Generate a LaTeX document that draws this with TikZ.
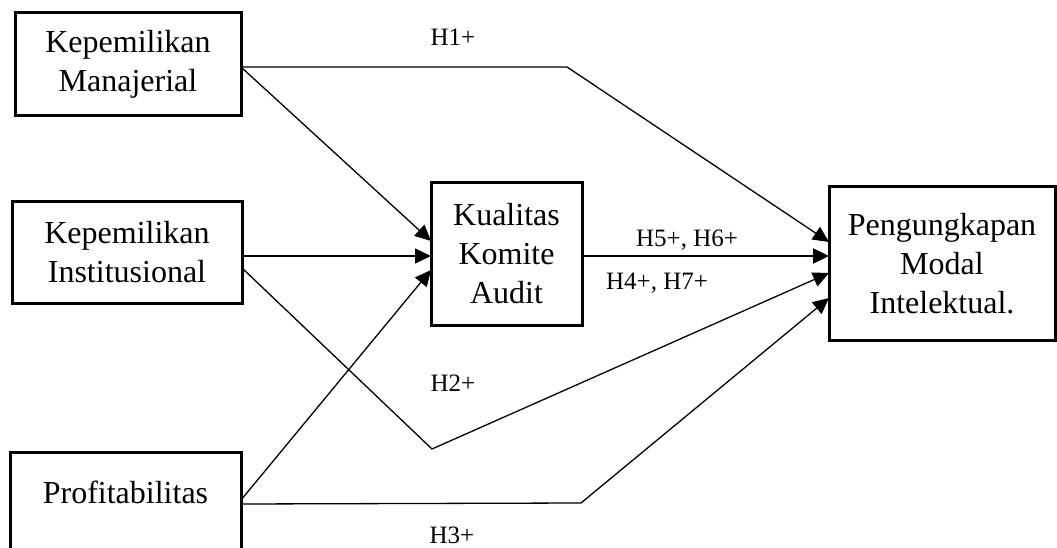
\documentclass[tikz,border=0pt]{standalone}
\usepackage{fontspec}
\setmainfont{Liberation Serif}
\usetikzlibrary{arrows.meta,calc}
\begin{document}
\begin{tikzpicture}[x=1pt,y=-1pt,
  box/.style={draw, line width=3pt, inner sep=0pt, outer sep=0pt, align=center, font=\fontsize{32}{39}\selectfont},
  conn/.style={line width=1.3pt, -{Triangle[length=16pt,width=15pt]}},
  thickconn/.style={line width=2.4pt, -{Triangle[length=16pt,width=15pt]}},
  lbl/.style={font=\fontsize{25}{30}\selectfont, inner sep=0pt}]
\useasboundingbox (0,0) rectangle (1057,548);
\begin{scope}
\clip (0,0) rectangle (1057,548);
% boxes
\node[box, minimum width=226pt, minimum height=103pt] (m) at (128,64.5) {Kepemilikan\\Manajerial};
\node[box, minimum width=230pt, minimum height=101pt] (i) at (127,252.5) {Kepemilikan\\Institusional};
\node[box, minimum width=231pt, minimum height=110pt] (pr) at (125.5,507) {};
\node[font=\fontsize{32}{39}\selectfont, inner sep=0pt] (prt) at (125.5,492) {Profitabilitas};
\node[box, minimum width=151pt, minimum height=142pt] (k) at (506.5,254) {Kualitas\\Komite\\Audit};
\node[box, minimum width=226pt, minimum height=153pt] (p) at (942,263.5) {Pengungkapan\\Modal\\Intelektual.};
% bend points
\coordinate (b1) at (567,67);
\coordinate (b2) at (432,449);
\coordinate (b3) at (581,503);
% connectors from Kepemilikan Manajerial
\draw[conn] ($(m.east)+(0,2.5)$) -- (b1) -- ($(p.west)+(0,-21.5)$);
\draw[conn] ($(m.east)+(0,2.5)$) -- ($(k.west)+(0,-13)$);
% connectors from Kepemilikan Institusional
\draw[conn] ($(i.east)+(0,3.5)$) -- ($(k.west)+(0,2)$);
\draw[conn] ($(i.east)+(0,15.5)$) -- (b2) -- ($(p.west)+(0,9.5)$);
% connectors from Profitabilitas
\draw[conn] ($(pr.east)+(0,-7)$) -- ($(k.west)+(0,16)$);
\draw[conn] ($(pr.east)+(0,-3)$) -- (b3) -- ($(p.west)+(0,34.5)$);
% Kualitas -> Pengungkapan
\draw[thickconn] ($(k.east)+(0,2)$) -- ($(p.west)+(0,-7.5)$);
% labels
\node[lbl] (h1) at (453,37) {H1+};
\node[lbl] (h2) at (453,383) {H2+};
\node[lbl] (h3) at (452,535) {H3+};
\node[lbl] (h56) at (687,240) {H5+, H6+};
\node[lbl] (h47) at (657,283) {H4+, H7+};
\end{scope}
\end{tikzpicture}
\end{document}
